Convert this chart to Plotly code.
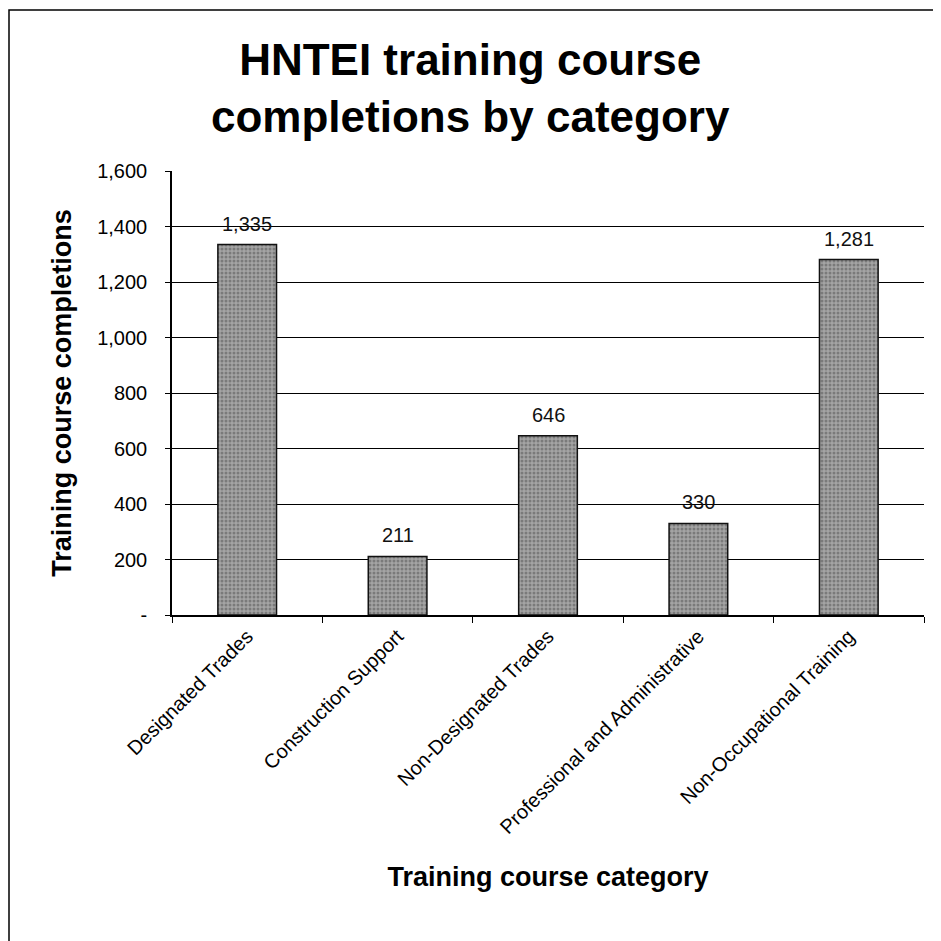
import plotly.graph_objects as go

categories = [
    "Designated Trades",
    "Construction Support",
    "Non-Designated Trades",
    "Professional and Administrative",
    "Non-Occupational Training",
]
completions = [1335, 211, 646, 330, 1281]

y_ticks = [0, 200, 400, 600, 800, 1000, 1200, 1400, 1600]
y_tick_labels = ["-", "200", "400", "600", "800", "1,000", "1,200", "1,400", "1,600"]

FONT = "Liberation Sans, Arial, sans-serif"

# page has an 8px body margin, so the figure is a bit smaller than the window
W, H = 933, 933
ML, MR, MT, MB = 164, 17, 163, 326
pw, ph = W - ML - MR, H - MT - MB


def px_x(p):
    return (p - ML) / pw


def px_y(p):
    return (H - MB - p) / ph


fig = go.Figure()

fig.add_trace(go.Bar(
    x=categories,
    y=completions,
    width=0.39,
    marker=dict(
        color="#959595",
        line=dict(color="#111111", width=1.5),
        pattern=dict(shape=".", fgcolor="#505050", bgcolor="#a4a4a4", size=4, solidity=0.45),
    ),
))

# value labels a little above each bar
for cat, val in zip(categories, completions):
    fig.add_annotation(
        x=cat, y=val, text=f"{val:,}",
        showarrow=False, yanchor="bottom", yshift=8,
        font=dict(family=FONT, size=20, color="#111111"),
    )

# chart title
fig.add_annotation(
    xref="paper", yref="paper",
    x=px_x(462), y=px_y(80),
    text="HNTEI training course<br>completions by category",
    showarrow=False, xanchor="center", yanchor="middle",
    font=dict(family=FONT, size=44, color="black", weight="bold"),
)

fig.update_layout(
    width=W,
    height=H,
    margin=dict(l=ML, r=MR, t=MT, b=MB),
    paper_bgcolor="white",
    plot_bgcolor="white",
    showlegend=False,
    font=dict(family=FONT, color="black"),
    shapes=[dict(
        type="rect", xref="paper", yref="paper",
        x0=px_x(1), x1=px_x(W + 20), y0=px_y(H + 20), y1=px_y(2),
        line=dict(color="black", width=1.5),
        layer="below",
    )],
)

fig.update_xaxes(
    showline=True,
    linecolor="black",
    linewidth=1.5,
    ticks="outside",
    tickson="boundaries",
    ticklen=6,
    tickcolor="black",
    tickangle=-45,
    tickfont=dict(size=20, family=FONT),
    title=dict(
        text="Training course category",
        font=dict(size=27, family=FONT, weight="bold"),
        standoff=30,
    ),
)

fig.update_yaxes(
    range=[0, 1600],
    tickvals=y_ticks,
    ticktext=y_tick_labels,
    showline=True,
    linecolor="black",
    linewidth=1.5,
    showgrid=True,
    gridcolor="black",
    gridwidth=1,
    ticks="outside",
    ticklen=5,
    tickcolor="black",
    ticklabelstandoff=14,
    tickfont=dict(size=20, family=FONT),
    zeroline=False,
    title=dict(
        text="Training course completions",
        font=dict(size=27, family=FONT, weight="bold"),
        standoff=18,
    ),
)

fig.write_html("out.html")
